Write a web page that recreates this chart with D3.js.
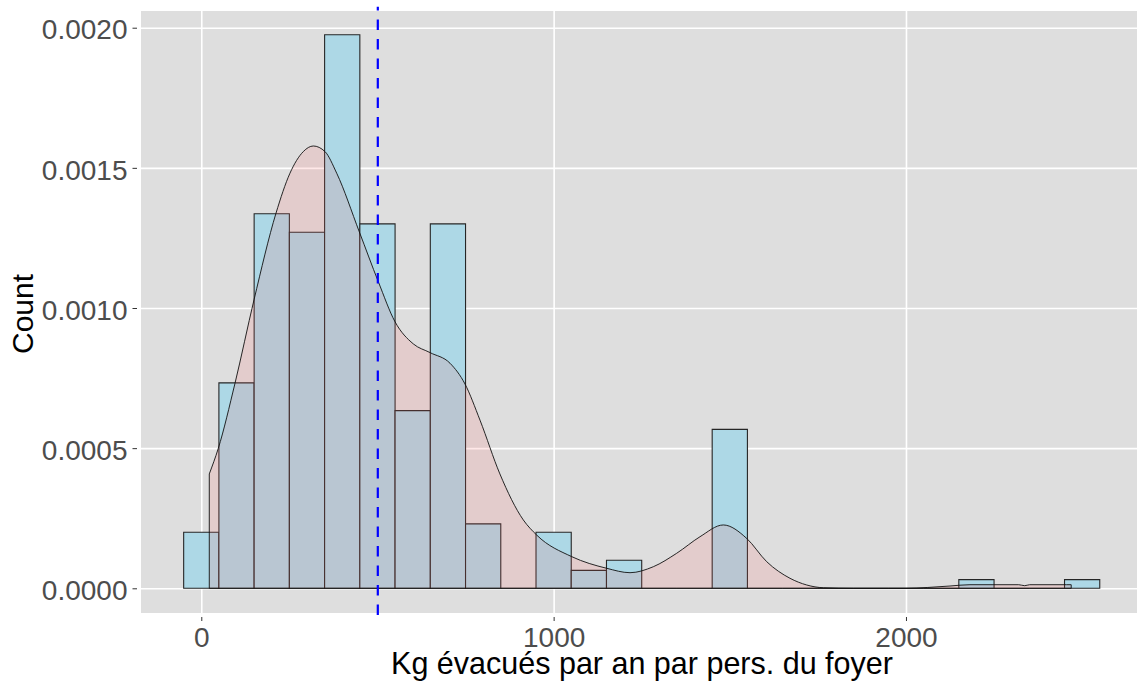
<!DOCTYPE html>
<html>
<head>
<meta charset="utf-8">
<script src="https://cdn.jsdelivr.net/npm/d3@7"></script>
<style>
  body { margin: 0; background: #fff; }
  text { font-family: "Liberation Sans", Arial, sans-serif; }
</style>
</head>
<body>
<svg width="1137" height="686"></svg>
<script>
// histogram (binwidth 100), density per bin centre
var binCenters = [0, 100, 200, 300, 400, 500, 600, 700, 800, 900, 1000, 1100, 1200,
    1300, 1400, 1500, 1600, 1700, 1800, 1900, 2000, 2100, 2200, 2300, 2400, 2500];
var binDensity = [0.000200, 0.000733, 0.001336, 0.001270, 0.001975, 0.001300, 0.000634,
    0.001300, 0.000230, 0, 0.000200, 0.000064, 0.000100, 0, 0, 0.000567,
    0, 0, 0, 0, 0, 0, 0.000031, 0, 0, 0.000031];
var binWidth = 100;

// kernel density
var densX = [22.7, 48.2, 95.6, 149.6, 212, 251.7, 289.5, 317.9, 351.1, 384.3, 448.4, 502.4,
    549.8, 601.7, 649.1, 705.9, 748.4, 791, 847.5, 913.9, 951.9, 1051.3, 1150.6, 1216.8,
    1282.9, 1349.3, 1415.4, 1481.6, 1548, 1604.7, 1670.9, 1718.3, 1765.4, 1850, 2000,
    2062, 2125, 2181.6, 2247, 2320, 2337, 2351, 2456, 2469];
var densY = [0.000408, 0.000499, 0.000731, 0.001029, 0.001338, 0.001481, 0.001558, 0.001578,
    0.001558, 0.001481, 0.001272, 0.001094, 0.000951, 0.000872, 0.000841, 0.000803, 0.000729,
    0.000600, 0.000408, 0.000244, 0.000190, 0.000113, 0.0000714, 0.0000557, 0.000077,
    0.000125, 0.000184, 0.000226, 0.000178, 0.000095, 0.0000357, 0.0000118, 0.000002, 0, 0,
    0.000003, 0.0000082, 0.0000128, 0.0000128, 0.0000128, 0.0000093, 0.0000128, 0.0000128, 0.0000128];

var meanValue = 501;
var xTicks = [0, 1000, 2000];
var yTicks = [0, 0.0005, 0.0010, 0.0015, 0.0020];

var svg = d3.select("svg");
var pLeft = 141, pRight = 1137, pTop = 11, pBottom = 613;

var x = d3.scaleLinear().domain([-171.1, 2655.7]).range([pLeft, pRight]);
var y = d3.scaleLinear().domain([-0.0000881, 0.0020596]).range([pBottom, pTop]);

svg.append("rect")
    .attr("x", pLeft).attr("y", pTop)
    .attr("width", pRight - pLeft).attr("height", pBottom - pTop)
    .attr("fill", "#DEDEDE");

// grid
svg.append("g")
    .attr("transform", "translate(" + pLeft + ",0)")
    .call(d3.axisLeft(y).tickValues(yTicks).tickSize(-(pRight - pLeft)).tickFormat(""))
    .call(g => g.select(".domain").remove())
    .selectAll("line").attr("stroke", "#fff").attr("stroke-width", 1.6);

svg.append("g")
    .attr("transform", "translate(0," + pBottom + ")")
    .call(d3.axisBottom(x).tickValues(xTicks).tickSize(-(pBottom - pTop)).tickFormat(""))
    .call(g => g.select(".domain").remove())
    .selectAll("line").attr("stroke", "#fff").attr("stroke-width", 1.6);

// bars
var bins = binCenters.map((c, i) => ({ x0: c - binWidth / 2, x1: c + binWidth / 2, d: binDensity[i] }));
svg.selectAll(".bar")
    .data(bins)
    .enter().append("path")
    .attr("class", "bar")
    .attr("d", function (b) {
        var x0 = x(b.x0), x1 = x(b.x1), y0 = y(0), y1 = y(b.d);
        return "M" + x0 + "," + y0 + "V" + y1 + "H" + x1 + "V" + y0 + "Z";
    })
    .attr("fill", "#ADD8E6")
    .attr("stroke", "#262626")
    .attr("stroke-width", 1.1);

// density
var dens = densX.map((v, i) => [v, densY[i]]);
var area = d3.area()
    .x(d => x(d[0]))
    .y0(y(0))
    .y1(d => y(d[1]))
    .curve(d3.curveMonotoneX);
var line = d3.line()
    .x(d => x(d[0]))
    .y(d => y(d[1]))
    .curve(d3.curveMonotoneX);

svg.append("path")
    .attr("d", area(dens))
    .attr("fill", "#FF6666")
    .attr("fill-opacity", 0.15)
    .attr("stroke", "none");

var first = dens[0], last = dens[dens.length - 1];
svg.append("path")
    .attr("d", "M" + x(first[0]) + "," + y(0) + "L" + line(dens).slice(1) +
        "L" + x(last[0]) + "," + y(0) + "Z")
    .attr("fill", "none")
    .attr("stroke", "#111")
    .attr("stroke-width", 0.9);

// mean line
svg.append("line")
    .attr("x1", x(meanValue)).attr("x2", x(meanValue))
    .attr("y1", 615).attr("y2", 6.7)
    .attr("stroke", "#0000FF")
    .attr("stroke-width", 2.2)
    .attr("stroke-dasharray", "10.5,9");

// axes
var yAxis = svg.append("g")
    .attr("transform", "translate(137,0)")
    .call(d3.axisLeft(y).tickValues(yTicks).tickSize(4.5).tickPadding(5).tickFormat(d3.format(".4f")));
yAxis.select(".domain").remove();
yAxis.selectAll("line").attr("stroke", "#333");
yAxis.selectAll("text").attr("fill", "#4D4D4D").attr("font-size", 28).attr("dy", "0.4em");

var xAxis = svg.append("g")
    .attr("transform", "translate(0,617)")
    .call(d3.axisBottom(x).tickValues(xTicks).tickSize(4).tickPadding(6).tickFormat(d3.format("d")));
xAxis.select(".domain").remove();
xAxis.selectAll("line").attr("stroke", "#333");
xAxis.selectAll("text").attr("fill", "#4D4D4D").attr("font-size", 28);

svg.append("text")
    .attr("x", 642).attr("y", 674)
    .attr("text-anchor", "middle")
    .attr("font-size", 30.5)
    .attr("fill", "#000")
    .text("Kg évacués par an par pers. du foyer");

svg.append("text")
    .attr("transform", "translate(33,314) rotate(-90)")
    .attr("text-anchor", "middle")
    .attr("font-size", 30)
    .attr("fill", "#000")
    .text("Count");
</script>
</body>
</html>
